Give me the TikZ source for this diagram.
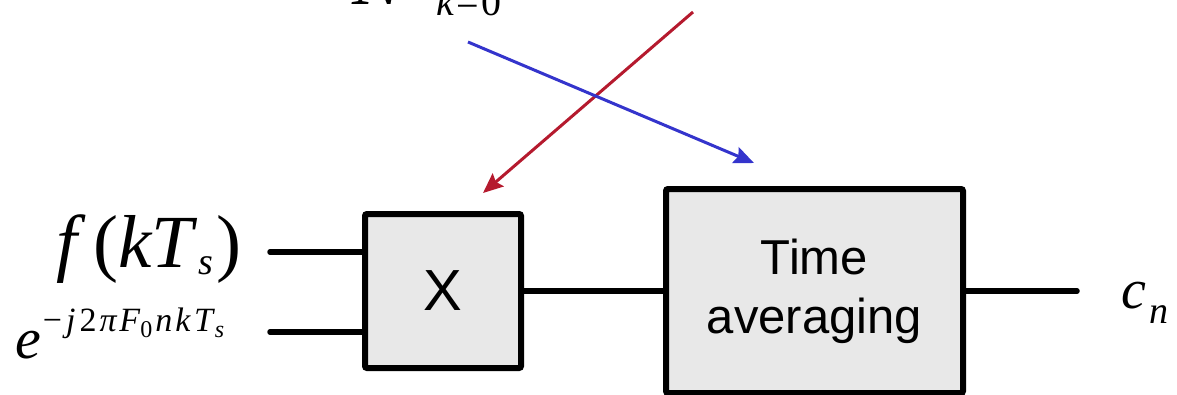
\documentclass[tikz,border=0pt]{standalone}
\usepackage{fontspec}
\setmainfont{Liberation Serif}
\newfontfamily\arialfont{Liberation Sans}
\usetikzlibrary{arrows.meta}
\definecolor{boxgray}{HTML}{E8E8E8}
\definecolor{ptrred}{HTML}{B51A2E}
\definecolor{ptrblue}{HTML}{3434CC}
% lowered small piece of a formula
\newcommand{\lowsub}[3]{\raisebox{-#1pt}{\fontsize{#2}{#2}\selectfont #3}}

\begin{document}
\begin{tikzpicture}[x=1pt,y=-1pt,
  wire/.style={line width=5.5pt,line cap=round},
  blockbox/.style={draw,line width=6pt,fill=boxgray,rounded corners=2pt,
    font=\arialfont,inner sep=0pt},
  ptr/.style={line width=3pt,-{Stealth[length=20pt,width=17pt,inset=3pt]}}]
  \useasboundingbox (0,0) rectangle (1177,394);
  \clip (0,0) rectangle (1177,394);

  % blocks
  \node[blockbox,minimum width=156pt,minimum height=154pt,
    font=\arialfont\fontsize{58}{58}\selectfont] (mul) at (443,291) {X};
  \node[blockbox,minimum width=297pt,minimum height=204pt,align=center,
    font=\arialfont\fontsize{49}{59}\selectfont] (avg) at (814.5,291)
    {Time\\averaging};

  % inputs and output
  \coordinate (fin) at (270,252);
  \coordinate (ein) at (270,332);
  \coordinate (cout) at (1077,291);
  \draw[wire] (fin) -- (fin -| mul.west);
  \draw[wire] (ein) -- (ein -| mul.west);
  \draw[wire] (mul.east) -- (avg.west);
  \draw[wire] (avg.east) -- (cout);

  % formulas
  \node[anchor=base east,inner sep=0pt] (flabel) at (242,267)
    {\fontsize{75}{75}\selectfont\textit{f}\kern8pt(\textit{kT}\lowsub{7}{38}{\textit{s}}\kern4pt)};
  \node[anchor=base west,inner sep=0pt] (elabel) at (15,358)
    {\fontsize{58}{58}\selectfont\textit{e}\raisebox{27pt}{\fontsize{34}{34}\selectfont
      \kern2pt−\kern4pt\textit{j}\kern4pt2\kern3pt\textit{π}\kern2pt\textit{F}\lowsub{6}{24}{0}\kern3pt\textit{n}\kern3pt\textit{k}\kern3pt\textit{T}\lowsub{6}{24}{\textit{s}}}};
  \node[anchor=base west,inner sep=0pt] (clabel) at (1121,308)
    {\fontsize{56}{56}\selectfont\textit{c}\kern3pt\lowsub{15}{38}{\textit{n}}};
  \node[anchor=base west,inner sep=0pt] (Nlabel) at (352,4)
    {\fontsize{75}{75}\selectfont\textit{N}};
  \node[anchor=base west,inner sep=0pt] (klabel) at (436,15)
    {\fontsize{40}{40}\selectfont\textit{k}\kern2pt=\kern2pt0};

  % pointers
  \coordinate (redS) at (693,12);
  \coordinate (redE) at (483,193);
  \coordinate (blueS) at (468,42);
  \coordinate (blueE) at (754,163);
  \draw[ptr,ptrred] (redS) -- (redE);
  \draw[ptr,ptrblue] (blueS) -- (blueE);
\end{tikzpicture}
\end{document}
